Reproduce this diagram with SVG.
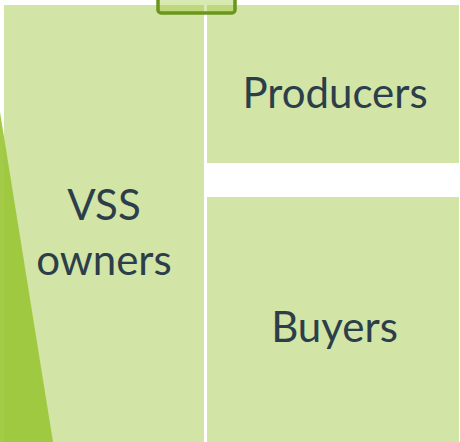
<svg xmlns="http://www.w3.org/2000/svg" width="460" height="442" viewBox="0 0 460 442">
  <style>
    .box { fill: #d2e4a6; }
    .lbl { font-family: Lato, "Liberation Sans", sans-serif; font-size: 42px; fill: #2c3e4a; text-anchor: middle; }
  </style>
  <rect width="460" height="442" fill="#ffffff"/>
  <g id="vss-owners">
    <rect class="box" x="4" y="5" width="200" height="437"/>
    <text class="lbl" x="104" y="220">VSS</text>
    <text class="lbl" x="104" y="275">owners</text>
  </g>
  <g id="producers">
    <rect class="box" x="207" y="5" width="252" height="158"/>
    <text class="lbl" x="335" y="108">Producers</text>
  </g>
  <g id="buyers">
    <rect class="box" x="207" y="197" width="252" height="245"/>
    <text class="lbl" x="334.5" y="342">Buyers</text>
  </g>
  <g id="accent-triangle">
    <polygon points="0,112 53,442 0,442" fill="#9cc73a" fill-opacity="0.93"/>
  </g>
  <g id="top-tab">
    <rect x="158" y="-10" width="77" height="23" rx="3" fill="#9dc83b" fill-opacity="0.4" stroke="#6b951e" stroke-width="3.5"/>
  </g>
  <g id="connectors"></g>
</svg>
